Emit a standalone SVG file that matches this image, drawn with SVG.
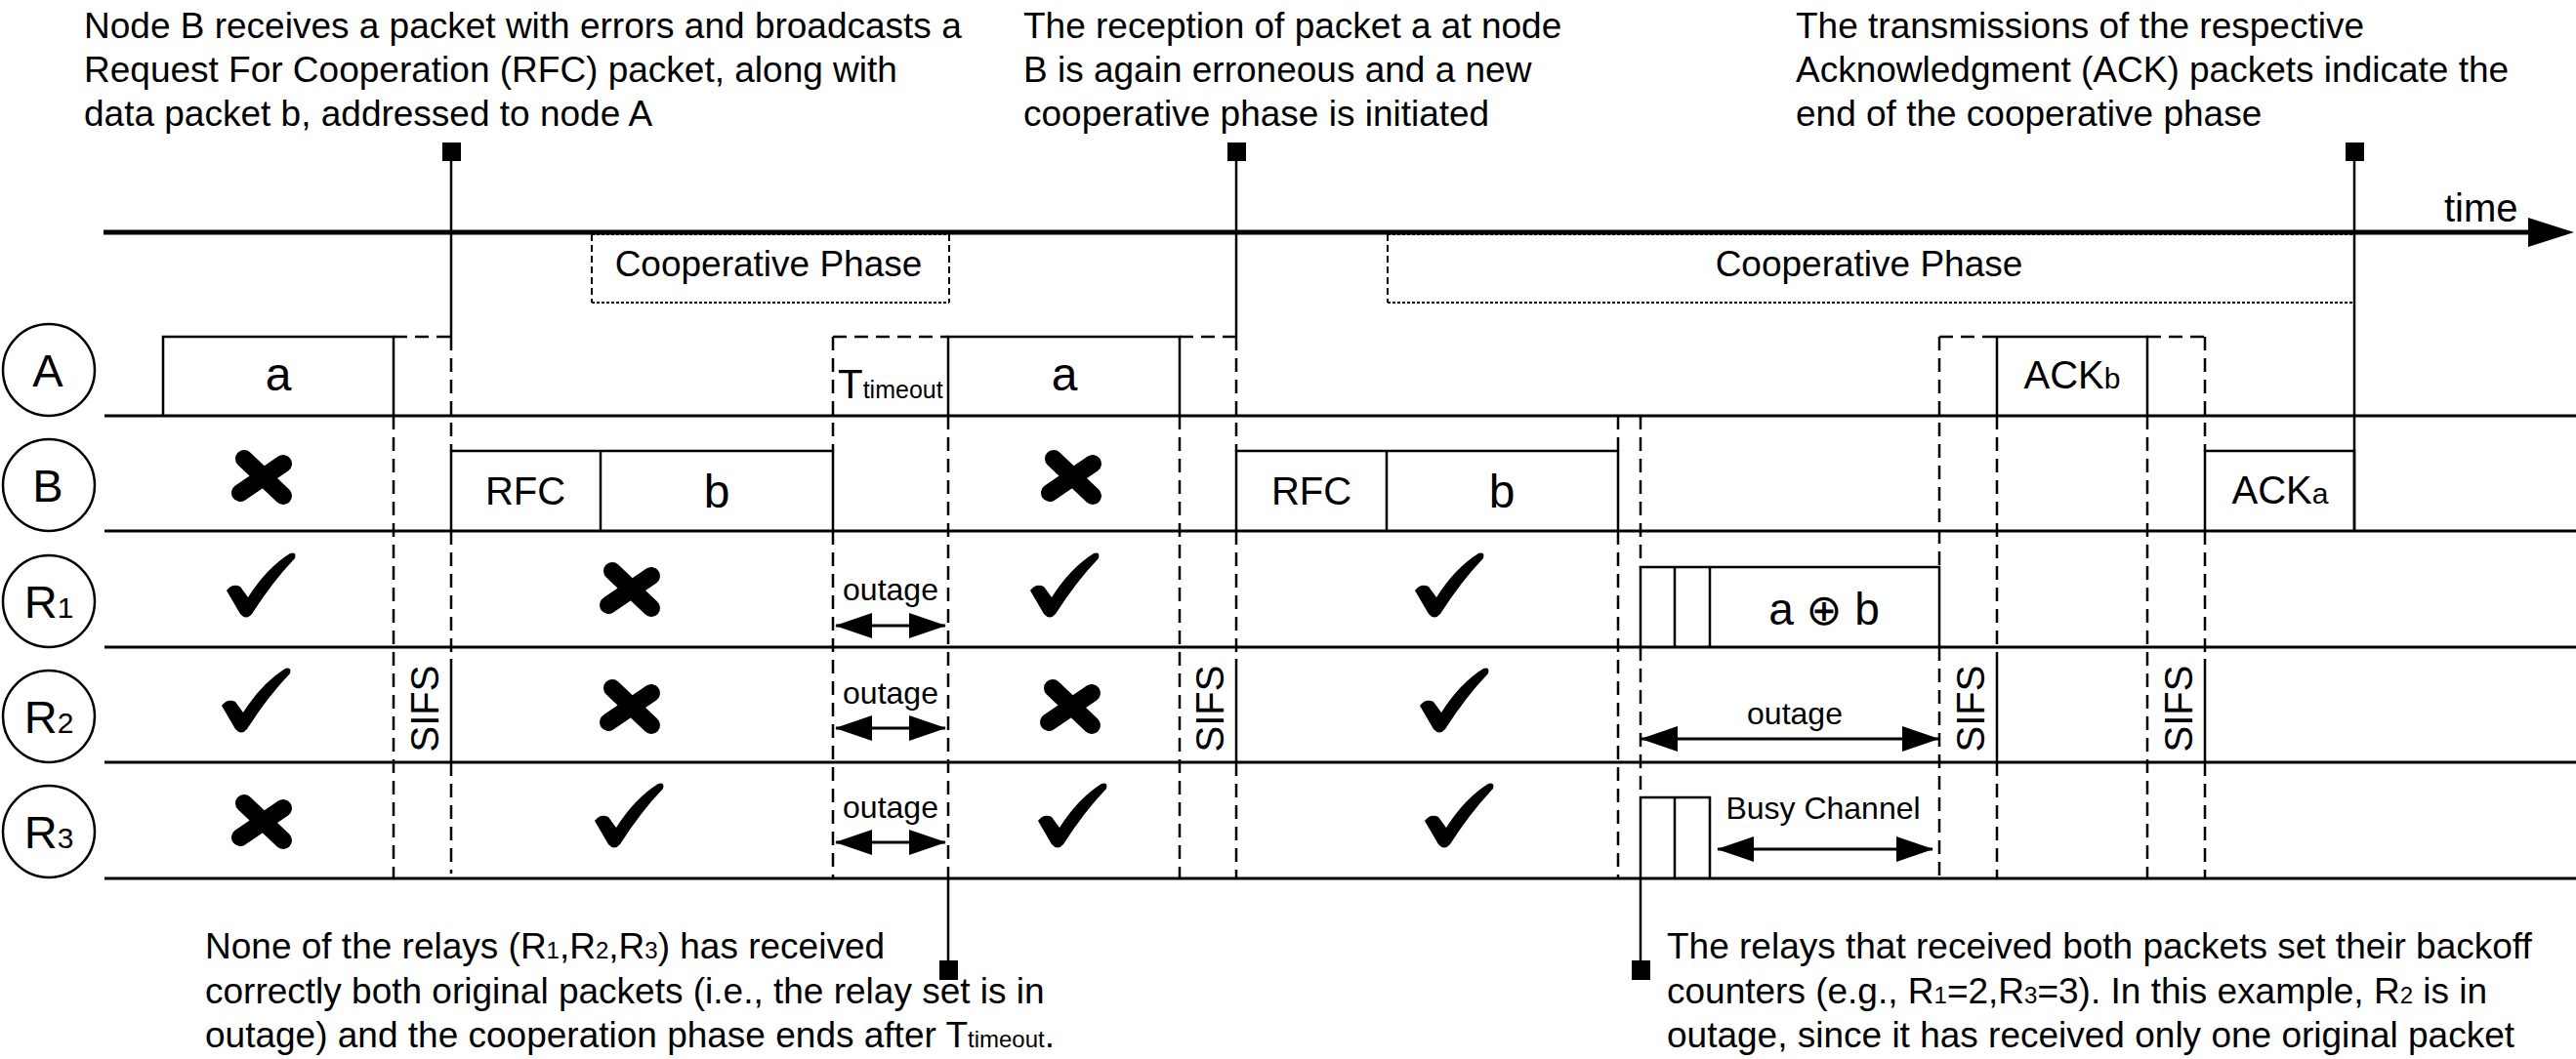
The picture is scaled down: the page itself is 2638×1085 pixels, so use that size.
<svg xmlns="http://www.w3.org/2000/svg" width="2638" height="1085" viewBox="0 0 2638 1085">
<style>
text{font-family:"Liberation Sans",Arial,"DejaVu Sans",sans-serif;fill:#000}
.note{font-size:37px}
.row{stroke:#000;stroke-width:3;fill:none}
.pk{stroke:#000;stroke-width:2.5;fill:none}
.ds{stroke:#000;stroke-width:2.5;stroke-dasharray:14 8;fill:none}
.sl{stroke:#000;stroke-width:2.5;fill:none}
.dot{stroke:#000;stroke-width:2;stroke-dasharray:3 2;fill:none}
.dsh{stroke:#000;stroke-width:2;stroke-dasharray:7 4;fill:none}
.nd{fill:#fff;stroke:#000;stroke-width:2.5}
.lbl{font-size:47px;text-anchor:middle}
.pl{font-size:48px;text-anchor:middle}
.pl2{font-size:40px;text-anchor:middle}
.sm{font-size:32px;text-anchor:middle}
.sifs{font-size:40px;text-anchor:middle}
.arr{stroke:#000;stroke-width:3;marker-start:url(#ah);marker-end:url(#ah)}
</style>
<defs>
<marker id="ah" viewBox="0 0 38 26" refX="37" refY="13" markerWidth="38" markerHeight="26" markerUnits="userSpaceOnUse" orient="auto-start-reverse">
<path d="M0,0 L38,13 L0,26 Z" fill="#000"/>
</marker>
<path id="chk" d="M-35,5 Q-29,-3 -21,1 L-13,12 Q6,-18 30,-33 Q37,-35 35,-28 Q12,-4 -9,29 Q-15,36 -21,29 Z" fill="#000"/>
<path id="crs" d="M-19,-19 L21,19 M21,-14 L-23,16" stroke="#000" stroke-width="18" stroke-linecap="round" fill="none"/>
</defs>

<!-- time axis -->
<g id="time-axis">
<line x1="106" y1="238" x2="2595" y2="238" stroke="#000" stroke-width="5"/>
<polygon points="2589,223 2636,238 2589,253" fill="#000"/>
<text x="2503" y="227" font-size="40">time</text>
</g>

<!-- cooperative phase boxes -->
<g id="coop-phase-1">
<line class="dot" x1="606" y1="240" x2="972" y2="240"/>
<line class="dot" x1="606" y1="310" x2="972" y2="310"/>
<line class="dsh" x1="606" y1="240" x2="606" y2="310"/>
<line class="dsh" x1="972" y1="240" x2="972" y2="310"/>
<text x="787" y="283" font-size="37" text-anchor="middle">Cooperative Phase</text>
</g>
<g id="coop-phase-2">
<line class="dot" x1="1421" y1="240" x2="2411" y2="240"/>
<line class="dot" x1="1421" y1="310" x2="2411" y2="310"/>
<line class="dsh" x1="1421" y1="240" x2="1421" y2="310"/>
<text x="1914" y="283" font-size="37" text-anchor="middle">Cooperative Phase</text>
</g>

<!-- row lines -->
<g id="rows">
<line class="row" x1="107" y1="426" x2="2638" y2="426"/>
<line class="row" x1="107" y1="544" x2="2638" y2="544"/>
<line class="row" x1="107" y1="663" x2="2638" y2="663"/>
<line class="row" x1="107" y1="781" x2="2638" y2="781"/>
<line class="row" x1="107" y1="900" x2="2638" y2="900"/>
</g>

<!-- nodes -->
<g id="node-A"><circle class="nd" cx="50" cy="379" r="47"/><text class="lbl" x="49" y="396">A</text></g>
<g id="node-B"><circle class="nd" cx="50" cy="497" r="47"/><text class="lbl" x="49" y="514">B</text></g>
<g id="node-R1"><circle class="nd" cx="50" cy="616" r="47"/><text class="lbl" x="50" y="633">R<tspan font-size="30">1</tspan></text></g>
<g id="node-R2"><circle class="nd" cx="50" cy="734" r="47"/><text class="lbl" x="50" y="751">R<tspan font-size="30">2</tspan></text></g>
<g id="node-R3"><circle class="nd" cx="50" cy="852" r="47"/><text class="lbl" x="50" y="869">R<tspan font-size="30">3</tspan></text></g>

<!-- packets -->
<g id="pkt-A-a1"><polyline class="pk" points="167,426 167,345 403,345 403,426"/><text class="pl" x="285" y="400">a</text></g>
<g id="pkt-B-rfc1"><polyline class="pk" points="462,544 462,462 853,462 853,544"/><line class="pk" x1="615" y1="462" x2="615" y2="544"/><text class="pl2" x="538" y="517">RFC</text><text class="pl" x="734" y="520">b</text></g>
<g id="pkt-A-a2"><polyline class="pk" points="971,426 971,345 1208,345 1208,426"/><text class="pl" x="1090" y="400">a</text></g>
<g id="pkt-B-rfc2"><polyline class="pk" points="1266,544 1266,462 1657,462 1657,544"/><line class="pk" x1="1420" y1="462" x2="1420" y2="544"/><text class="pl2" x="1343" y="517">RFC</text><text class="pl" x="1538" y="520">b</text></g>
<g id="pkt-R1-xor"><polyline class="pk" points="1680,663 1680,581 1986,581 1986,663"/><line class="pk" x1="1715" y1="581" x2="1715" y2="663"/><line class="pk" x1="1751" y1="581" x2="1751" y2="663"/><text x="1868" y="640" font-size="46" text-anchor="middle">a <tspan font-family="'DejaVu Sans',sans-serif" font-size="44">⊕</tspan> b</text></g>
<g id="pkt-R3-busy"><polyline class="pk" points="1680,900 1680,817 1751,817 1751,900"/><line class="pk" x1="1715" y1="817" x2="1715" y2="900"/><text class="sm" x="1867" y="839">Busy Channel</text></g>
<g id="pkt-A-ackb"><polyline class="pk" points="2045,426 2045,345 2199,345 2199,426"/><text class="pl2" x="2122" y="398">ACK<tspan font-size="30">b</tspan></text></g>
<g id="pkt-B-acka"><polyline class="pk" points="2258,544 2258,462 2411,462 2411,544"/><text class="pl2" x="2335" y="516">ACK<tspan font-size="30">a</tspan></text></g>

<!-- reception marks -->
<g id="marks">
<use href="#crs" x="269" y="489"/>
<use href="#chk" x="267" y="600"/>
<use href="#chk" x="262" y="718"/>
<use href="#crs" x="269" y="842"/>
<use href="#crs" x="646" y="604"/>
<use href="#crs" x="646" y="724"/>
<use href="#chk" x="644" y="836"/>
<use href="#crs" x="1098" y="489"/>
<use href="#chk" x="1090" y="600"/>
<use href="#crs" x="1097" y="724"/>
<use href="#chk" x="1098" y="836"/>
<use href="#chk" x="1484" y="600"/>
<use href="#chk" x="1489" y="718"/>
<use href="#chk" x="1494" y="836"/>
</g>

<!-- connectors: timing boundaries, callouts, arrows -->
<g id="connectors">
<line class="ds" x1="403" y1="345" x2="462" y2="345"/>
<line class="ds" x1="853" y1="345" x2="971" y2="345"/>
<line class="ds" x1="1208" y1="345" x2="1266" y2="345"/>
<line class="ds" x1="1986" y1="345" x2="2045" y2="345"/>
<line class="ds" x1="2199" y1="345" x2="2258" y2="345"/>

<line class="ds" x1="403" y1="426" x2="403" y2="900"/>
<line class="ds" x1="462" y1="345" x2="462" y2="462"/>
<line class="ds" x1="462" y1="544" x2="462" y2="675"/>
<line class="sl" x1="462" y1="675" x2="462" y2="781"/>
<line class="ds" x1="462" y1="781" x2="462" y2="895"/>
<line class="ds" x1="853" y1="345" x2="853" y2="462"/>
<line class="ds" x1="853" y1="544" x2="853" y2="900"/>
<line class="ds" x1="971" y1="426" x2="971" y2="900"/>
<line class="ds" x1="1208" y1="426" x2="1208" y2="900"/>
<line class="ds" x1="1266" y1="345" x2="1266" y2="462"/>
<line class="ds" x1="1266" y1="544" x2="1266" y2="675"/>
<line class="sl" x1="1266" y1="675" x2="1266" y2="781"/>
<line class="ds" x1="1266" y1="781" x2="1266" y2="900"/>
<line class="ds" x1="1657" y1="426" x2="1657" y2="462"/>
<line class="ds" x1="1657" y1="544" x2="1657" y2="900"/>
<line class="ds" x1="1680" y1="426" x2="1680" y2="581"/>
<line class="ds" x1="1680" y1="663" x2="1680" y2="817"/>
<line class="ds" x1="1986" y1="345" x2="1986" y2="581"/>
<line class="ds" x1="1986" y1="663" x2="1986" y2="900"/>
<line class="ds" x1="2045" y1="426" x2="2045" y2="675"/>
<line class="sl" x1="2045" y1="675" x2="2045" y2="781"/>
<line class="ds" x1="2045" y1="781" x2="2045" y2="900"/>
<line class="ds" x1="2199" y1="426" x2="2199" y2="900"/>
<line class="ds" x1="2258" y1="345" x2="2258" y2="462"/>
<line class="ds" x1="2258" y1="544" x2="2258" y2="675"/>
<line class="sl" x1="2258" y1="675" x2="2258" y2="781"/>
<line class="ds" x1="2258" y1="781" x2="2258" y2="900"/>

<!-- callout leaders -->
<line class="sl" x1="462" y1="160" x2="462" y2="345"/>
<rect x="453" y="146" width="19" height="19" fill="#000"/>
<line class="sl" x1="1266" y1="160" x2="1266" y2="345"/>
<rect x="1257" y="146" width="19" height="19" fill="#000"/>
<line class="sl" x1="2411" y1="160" x2="2411" y2="544"/>
<rect x="2402" y="146" width="19" height="19" fill="#000"/>
<line class="sl" x1="971" y1="900" x2="971" y2="990"/>
<rect x="962" y="984" width="19" height="20" fill="#000"/>
<line class="sl" x1="1680" y1="900" x2="1680" y2="990"/>
<rect x="1671" y="984" width="19" height="20" fill="#000"/>

<!-- arrows -->
<line class="arr" x1="856" y1="641" x2="968" y2="641"/>
<line class="arr" x1="856" y1="746" x2="968" y2="746"/>
<line class="arr" x1="856" y1="863" x2="968" y2="863"/>
<line class="arr" x1="1681" y1="757" x2="1985" y2="757"/>
<line class="arr" x1="1759" y1="870" x2="1979" y2="870"/>
</g>

<!-- labels -->
<g id="labels">
<text x="858" y="408" font-size="42">T<tspan font-size="25">timeout</tspan></text>
<text class="sm" x="912" y="615">outage</text>
<text class="sm" x="912" y="721">outage</text>
<text class="sm" x="912" y="838">outage</text>
<text class="sm" x="1838" y="742">outage</text>
<text class="sifs" transform="translate(449,726) rotate(-90)">SIFS</text>
<text class="sifs" transform="translate(1253,726) rotate(-90)">SIFS</text>
<text class="sifs" transform="translate(2032,726) rotate(-90)">SIFS</text>
<text class="sifs" transform="translate(2245,726) rotate(-90)">SIFS</text>
</g>

<!-- annotations -->
<g id="note-top-1" class="note">
<text x="86" y="39">Node B receives a packet with errors and broadcasts a</text>
<text x="86" y="84">Request For Cooperation (RFC) packet, along with</text>
<text x="86" y="129">data packet b, addressed to node A</text>
</g>
<g id="note-top-2" class="note">
<text x="1048" y="39">The reception of packet a at node</text>
<text x="1048" y="84">B is again erroneous and a new</text>
<text x="1048" y="129">cooperative phase is initiated</text>
</g>
<g id="note-top-3" class="note">
<text x="1839" y="39">The transmissions of the respective</text>
<text x="1839" y="84">Acknowledgment (ACK) packets indicate the</text>
<text x="1839" y="129">end of the cooperative phase</text>
</g>
<g id="note-bottom-1" class="note">
<text x="210" y="982">None of the relays (R<tspan font-size="24">1</tspan>,R<tspan font-size="24">2</tspan>,R<tspan font-size="24">3</tspan>) has received</text>
<text x="210" y="1028">correctly both original packets (i.e., the relay set is in</text>
<text x="210" y="1073">outage) and the cooperation phase ends after T<tspan font-size="24">timeout</tspan>.</text>
</g>
<g id="note-bottom-2" class="note">
<text x="1707" y="982">The relays that received both packets set their backoff</text>
<text x="1707" y="1028">counters (e.g., R<tspan font-size="24">1</tspan>=2,R<tspan font-size="24">3</tspan>=3). In this example, R<tspan font-size="24">2</tspan> is in</text>
<text x="1707" y="1073">outage, since it has received only one original packet</text>
</g>
</svg>
